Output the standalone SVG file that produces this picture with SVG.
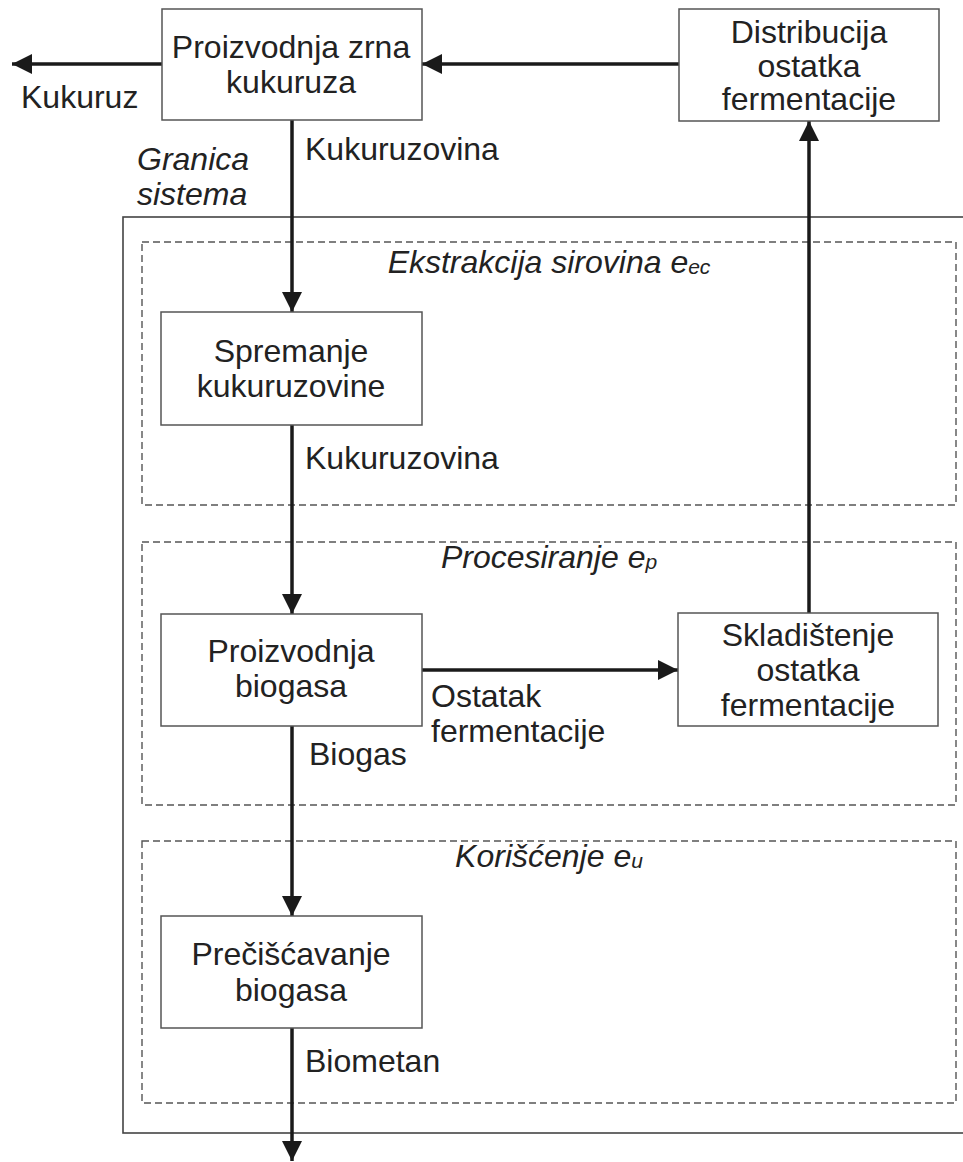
<svg xmlns="http://www.w3.org/2000/svg" width="963" height="1162" viewBox="0 0 963 1162">
  <style>
    text { font-family: "Liberation Sans", Arial, sans-serif; font-size: 32px; fill: #222; }
    .c { text-anchor: middle; }
    .it { font-style: italic; }
    .sub { font-size: 21px; }
    .box { fill: #fff; stroke: #555; stroke-width: 1.5; }
    .zone { fill: none; stroke: #555; stroke-width: 1.4; stroke-dasharray: 7 4; }
    .bound { fill: none; stroke: #444; stroke-width: 1.6; }
    .flow { fill: none; stroke: #1a1a1a; stroke-width: 3.5; }
  </style>
  <defs>
    <marker id="arrow" markerUnits="userSpaceOnUse" markerWidth="20" markerHeight="20" viewBox="0 0 19 19" refX="19" refY="9.5" orient="auto">
      <path d="M0,0 L19,9.5 L0,19 Z" fill="#1a1a1a"/>
    </marker>
  </defs>
  <rect width="963" height="1162" fill="#fff"/>

  <!-- system boundary -->
  <g id="system-boundary">
    <rect class="bound" x="123" y="217" width="860" height="916"/>
    <text class="it" x="137" y="170">Granica</text>
    <text class="it" x="137" y="205">sistema</text>
  </g>

  <!-- life-cycle stages -->
  <g id="stage-extraction">
    <rect class="zone" x="142" y="242" width="814" height="263"/>
    <text class="it c" x="549" y="273">Ekstrakcija sirovina e<tspan class="sub" dy="1">ec</tspan></text>
  </g>
  <g id="stage-processing">
    <rect class="zone" x="142" y="542" width="814" height="263"/>
    <text class="it c" x="549" y="568">Procesiranje e<tspan class="sub" dy="1">p</tspan></text>
  </g>
  <g id="stage-use">
    <rect class="zone" x="142" y="841" width="814" height="262"/>
    <text class="it c" x="549" y="867">Korišćenje e<tspan class="sub" dy="1">u</tspan></text>
  </g>

  <!-- flows -->
  <g id="connectors">
    <line class="flow" x1="162" y1="64" x2="12" y2="64" marker-end="url(#arrow)"/>
    <line class="flow" x1="679" y1="64" x2="422" y2="64" marker-end="url(#arrow)"/>
    <line class="flow" x1="292" y1="120" x2="292" y2="312" marker-end="url(#arrow)"/>
    <line class="flow" x1="292" y1="425" x2="292" y2="614" marker-end="url(#arrow)"/>
    <line class="flow" x1="422" y1="670" x2="678" y2="670" marker-end="url(#arrow)"/>
    <line class="flow" x1="809" y1="613" x2="809" y2="121" marker-end="url(#arrow)"/>
    <line class="flow" x1="292" y1="726" x2="292" y2="916" marker-end="url(#arrow)"/>
    <line class="flow" x1="292" y1="1028" x2="292" y2="1161" marker-end="url(#arrow)"/>
    <text x="21" y="108">Kukuruz</text>
    <text x="305" y="160">Kukuruzovina</text>
    <text x="305" y="469">Kukuruzovina</text>
    <text x="431" y="707">Ostatak</text>
    <text x="431" y="742">fermentacije</text>
    <text x="309" y="765">Biogas</text>
    <text x="305" y="1072">Biometan</text>
  </g>

  <!-- process nodes -->
  <g id="node-grain">
    <rect class="box" x="162" y="9" width="260" height="111"/>
    <text class="c" x="291" y="58">Proizvodnja zrna</text>
    <text class="c" x="291" y="93">kukuruza</text>
  </g>
  <g id="node-digestate-distribution">
    <rect class="box" x="679" y="9" width="260" height="112"/>
    <text class="c" x="809" y="43">Distribucija</text>
    <text class="c" x="809" y="77">ostatka</text>
    <text class="c" x="809" y="110">fermentacije</text>
  </g>
  <g id="node-stover">
    <rect class="box" x="161" y="312" width="261" height="113"/>
    <text class="c" x="291" y="362">Spremanje</text>
    <text class="c" x="291" y="397">kukuruzovine</text>
  </g>
  <g id="node-biogas">
    <rect class="box" x="161" y="614" width="261" height="112"/>
    <text class="c" x="291" y="662">Proizvodnja</text>
    <text class="c" x="291" y="697">biogasa</text>
  </g>
  <g id="node-digestate-storage">
    <rect class="box" x="678" y="613" width="260" height="113"/>
    <text class="c" x="808" y="646">Skladištenje</text>
    <text class="c" x="808" y="681">ostatka</text>
    <text class="c" x="808" y="716">fermentacije</text>
  </g>
  <g id="node-upgrading">
    <rect class="box" x="161" y="916" width="261" height="112"/>
    <text class="c" x="291" y="965">Prečišćavanje</text>
    <text class="c" x="291" y="1001">biogasa</text>
  </g>
</svg>
